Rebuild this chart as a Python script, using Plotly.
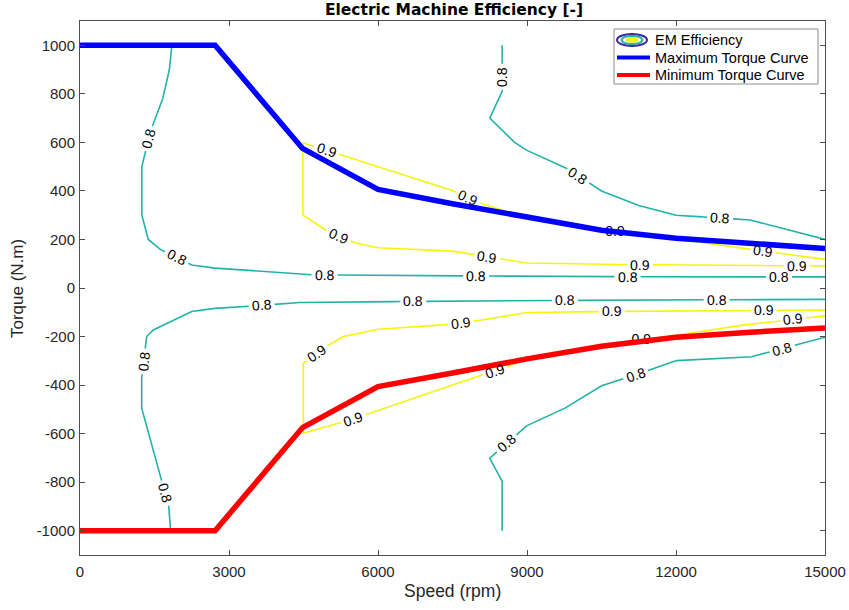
import math
import plotly.graph_objects as go

# ---------------- data ----------------
# speed / torque envelope
curve_speed = [0, 2720, 4480, 6000, 7500, 9000, 10500, 12000, 13500, 15000]
max_torque = [1000, 1000, 575, 406, 347, 292, 238, 205, 182, 163]
min_torque = [-1000, -1000, -575, -406, -350, -292, -240, -203, -182, -165]

# efficiency iso-lines (speed in rpm, torque in N.m)
eff08_upper_left_speed = [1850, 1800, 1665, 1475, 1310, 1245, 1245, 1375, 1610, 2250, 2720, 4560, 6000, 7650, 9000, 12000, 15000]
eff08_upper_left_torque = [1000, 900, 780, 680, 555, 500, 300, 200, 160, 95, 82, 55, 52, 50, 48, 46, 46]
eff08_upper_left_labels = [(1390, 616), (1946, 126), (4924, 55), (7974, 50), (11024, 47), (14074, 46)]

eff08_upper_right_speed = [8500, 8500, 8250, 8750, 9000, 9750, 10500, 11250, 12000, 12450, 13500, 15000]
eff08_upper_right_torque = [1000, 810, 700, 600, 567, 500, 400, 340, 300, 294, 280, 200]
eff08_upper_right_labels = [(8500, 870), (10032, 462), (12885, 286)]

eff09_upper_speed = [15000, 13400, 12000, 10500, 9000, 8150, 7480, 4490, 4490, 4930, 5570, 6000, 7500, 9000, 10900, 15000]
eff09_upper_torque = [118, 162, 203, 236, 288, 342, 403, 598, 300, 240, 184, 166, 152, 103, 97, 91]
eff09_upper_labels = [(4966, 567), (7818, 372), (10771, 228), (13757, 150), (5201, 214), (8200, 129), (11274, 96), (14428, 92)]

eff08_lower_left_speed = [1825, 1800, 1611, 1242, 1242, 1342, 1476, 2248, 2718, 3288, 4429, 6308, 9000, 12000, 15000]
eff08_lower_left_torque = [-1000, -907, -770, -495, -372, -200, -173, -97, -84, -77, -60, -56, -52, -49, -47]
eff08_lower_left_labels = [(1714, -845), (1282, -303), (3657, -72), (6711, -56), (9764, -52), (12818, -49)]

eff08_lower_right_speed = [8500, 8500, 8250, 8992, 9764, 10502, 11509, 12012, 13522, 15000]
eff08_lower_right_torque = [-1000, -797, -701, -568, -495, -403, -335, -299, -283, -203]
eff08_lower_right_labels = [(8590, -640), (11187, -357), (14139, -250)]

eff09_lower_speed = [15000, 13000, 10500, 9000, 8019, 7315, 6006, 5302, 5067, 4496, 4496, 5168, 5839, 7500, 8690, 9000, 10500, 12046, 13390, 15000]
eff09_lower_torque = [-91, -93, -97, -101, -134, -152, -170, -200, -228, -310, -598, -560, -516, -400, -317, -290, -240, -193, -152, -115]
eff09_lower_labels = [(4778, -269), (7670, -143), (10704, -97), (13770, -93), (5503, -536), (8355, -340), (11307, -224), (14361, -130)]

x_ticks = [0, 3000, 6000, 9000, 12000, 15000]
y_ticks = [-1000, -800, -600, -400, -200, 0, 200, 400, 600, 800, 1000]

# ---------------- layout geometry ----------------
FIG_W, FIG_H = 849, 610
M_L, M_R, M_T, M_B = 80, 24, 21, 55
PW, PH = FIG_W - M_L - M_R, FIG_H - M_T - M_B
X_RANGE = [0, 15000]
Y_RANGE = [-1100, 1100]
SX = PW / (X_RANGE[1] - X_RANGE[0])
SY = PH / (Y_RANGE[1] - Y_RANGE[0])

TEAL = "#22B3A8"
YELLOW = "#F5F50C"
AXIS = "#4d4d4d"
TXT = "#262626"
FONT = "Liberation Sans, Arial, sans-serif"
LABEL_FONT = dict(family=FONT, size=14, color="black")


def to_px(x, y):
    return ((x - X_RANGE[0]) * SX, (Y_RANGE[1] - y) * SY)


def to_data(u, v):
    return (u / SX + X_RANGE[0], Y_RANGE[1] - v / SY)


def project(pts, q):
    best = None
    s_acc = 0.0
    for i in range(len(pts) - 1):
        (x0, y0), (x1, y1) = pts[i], pts[i + 1]
        dx, dy = x1 - x0, y1 - y0
        L = math.hypot(dx, dy)
        t = 0.0 if L == 0 else max(0.0, min(1.0, ((q[0] - x0) * dx + (q[1] - y0) * dy) / (L * L)))
        cx, cy = x0 + t * dx, y0 + t * dy
        d = math.hypot(q[0] - cx, q[1] - cy)
        if best is None or d < best[0]:
            best = (d, s_acc + t * L, (cx, cy), math.degrees(math.atan2(dy, dx)))
        s_acc += L
    return best


def polyline_with_gaps(pts, intervals):
    cum = [0.0]
    for i in range(len(pts) - 1):
        cum.append(cum[-1] + math.hypot(pts[i + 1][0] - pts[i][0], pts[i + 1][1] - pts[i][1]))
    total = cum[-1]

    def at(s):
        for i in range(len(pts) - 1):
            if cum[i] <= s <= cum[i + 1]:
                L = cum[i + 1] - cum[i]
                t = 0 if L == 0 else (s - cum[i]) / L
                return (pts[i][0] + t * (pts[i + 1][0] - pts[i][0]),
                        pts[i][1] + t * (pts[i + 1][1] - pts[i][1]))
        return pts[-1]

    events = set(cum)
    for a, b in intervals:
        events.add(min(max(a, 0), total))
        events.add(min(max(b, 0), total))
    events = sorted(events)
    xs, ys = [], []
    drawing = False
    for a, b in zip(events[:-1], events[1:]):
        if b - a < 1e-9:
            continue
        m = (a + b) / 2
        if any(lo < m < hi for lo, hi in intervals):
            if drawing:
                xs.append(None)
                ys.append(None)
                drawing = False
            continue
        if not drawing:
            d = to_data(*at(a))
            xs.append(d[0])
            ys.append(d[1])
            drawing = True
        d = to_data(*at(b))
        xs.append(d[0])
        ys.append(d[1])
    return xs, ys


curve_px_max = [to_px(x, y) for x, y in zip(curve_speed, max_torque)]
curve_px_min = [to_px(x, y) for x, y in zip(curve_speed, min_torque)]

contours = [
    (eff08_upper_left_speed, eff08_upper_left_torque, eff08_upper_left_labels, TEAL, "0.8"),
    (eff08_upper_right_speed, eff08_upper_right_torque, eff08_upper_right_labels, TEAL, "0.8"),
    (eff09_upper_speed, eff09_upper_torque, eff09_upper_labels, YELLOW, "0.9"),
    (eff08_lower_left_speed, eff08_lower_left_torque, eff08_lower_left_labels, TEAL, "0.8"),
    (eff08_lower_right_speed, eff08_lower_right_torque, eff08_lower_right_labels, TEAL, "0.8"),
    (eff09_lower_speed, eff09_lower_torque, eff09_lower_labels, YELLOW, "0.9"),
]

fig = go.Figure()
annotations = []
hidden_x, hidden_y, hidden_t = [], [], []
GAP = 13

for sp, tq, labels, color, level in contours:
    pts = [to_px(x, y) for x, y in zip(sp, tq)]
    intervals = []
    for lab in labels:
        d, s0, (cx, cy), ang = project(pts, to_px(*lab))
        intervals.append((s0 - GAP, s0 + GAP))
        if ang > 90:
            ang -= 180
        elif ang < -90:
            ang += 180
        if abs(abs(ang) - 90) < 1e-6:
            ang = -90
        lx, ly = to_data(cx, cy)
        under = min(project(curve_px_max, (cx, cy))[0], project(curve_px_min, (cx, cy))[0]) < 5
        if under:
            hidden_x.append(lx)
            hidden_y.append(ly)
            hidden_t.append(level)
        else:
            annotations.append(dict(x=lx, y=ly, xref="x", yref="y", text=level, showarrow=False,
                                    textangle=ang, font=LABEL_FONT, xanchor="center", yanchor="middle"))
    xs, ys = polyline_with_gaps(pts, intervals)
    fig.add_trace(go.Scatter(x=xs, y=ys, mode="lines", line=dict(color=color, width=1.6),
                             showlegend=False, hoverinfo="skip", connectgaps=False))

fig.add_trace(go.Scatter(x=hidden_x, y=hidden_y, text=hidden_t, mode="text", textfont=LABEL_FONT,
                         textposition="middle center", showlegend=False, hoverinfo="skip"))

fig.add_trace(go.Scatter(x=curve_speed, y=max_torque, mode="lines", name="Maximum Torque Curve",
                         line=dict(color="#0000FF", width=5.5), showlegend=False))
fig.add_trace(go.Scatter(x=curve_speed, y=min_torque, mode="lines", name="Minimum Torque Curve",
                         line=dict(color="#FF0000", width=5.5), showlegend=False))


# ---------------- custom legend (MATLAB style) ----------------
def px2paper(u, v):
    return ((u - M_L) / PW, (FIG_H - M_B - v) / PH)


shapes = []
bx0, by0 = px2paper(614, 84)
bx1, by1 = px2paper(818, 29)
shapes.append(dict(type="rect", xref="paper", yref="paper", x0=bx0, y0=by0, x1=bx1, y1=by1,
                   line=dict(color="#8a8a8a", width=1), fillcolor="white", layer="above"))


def ellipse(cx, cy, rx, ry, color, width, fill=None):
    x0, y0 = px2paper(cx - rx, cy + ry)
    x1, y1 = px2paper(cx + rx, cy - ry)
    return dict(type="circle", xref="paper", yref="paper", x0=x0, y0=y0, x1=x1, y1=y1,
                line=dict(color=color, width=width), fillcolor=fill or "rgba(0,0,0,0)", layer="above")


shapes.append(ellipse(632, 40, 15, 6, "#3E26A8", 2))
shapes.append(ellipse(632, 40, 10.5, 4, TEAL, 2))
shapes.append(ellipse(632, 40, 5.5, 2, YELLOW, 1.5, YELLOW))
for yy, col in ((57.5, "#0000FF"), (75, "#FF0000")):
    x0, y0 = px2paper(617, yy)
    x1, _ = px2paper(650, yy)
    shapes.append(dict(type="line", xref="paper", yref="paper", x0=x0, y0=y0, x1=x1, y1=y0,
                       line=dict(color=col, width=4), layer="above"))

for yy, txt in ((40, "EM Efficiency"), (58, "Maximum Torque Curve"), (75.5, "Minimum Torque Curve")):
    x0, y0 = px2paper(653, yy)
    annotations.append(dict(x=x0, y=y0, xref="paper", yref="paper", text=txt, showarrow=False,
                            xanchor="left", yanchor="middle",
                            font=dict(family=FONT, size=14.5, color="black")))

# axis titles
ax_x, ax_y = px2paper(452, 591)
annotations.append(dict(x=ax_x, y=ax_y, xref="paper", yref="paper", text="Speed (rpm)", showarrow=False,
                        xanchor="center", yanchor="middle",
                        font=dict(family=FONT, size=17.5, color=TXT)))
ay_x, ay_y = px2paper(17, 288)
annotations.append(dict(x=ay_x, y=ay_y, xref="paper", yref="paper", text="Torque (N.m)", showarrow=False,
                        textangle=-90, xanchor="center", yanchor="middle",
                        font=dict(family=FONT, size=17, color=TXT)))

axis_common = dict(showgrid=False, zeroline=False, showline=True, linecolor=AXIS, linewidth=1,
                   mirror="ticks", ticks="inside", ticklen=5, tickcolor=AXIS, tickwidth=1,
                   tickfont=dict(family=FONT, size=15, color=TXT))

fig.update_layout(
    width=FIG_W, height=FIG_H,
    margin=dict(l=M_L, r=M_R, t=M_T, b=M_B, autoexpand=False),
    paper_bgcolor="white", plot_bgcolor="white",
    title=dict(text="<b>Electric Machine Efficiency [-]</b>", x=454 / FIG_W, xanchor="center",
               y=1 - 10 / FIG_H, yanchor="middle", yref="container",
               font=dict(family="DejaVu Sans, sans-serif", size=15.5, color="black")),
    xaxis=dict(range=X_RANGE, tickvals=x_ticks, ticktext=[str(v) for v in x_ticks],
               ticklabelstandoff=3, **axis_common),
    yaxis=dict(range=Y_RANGE, tickvals=y_ticks, ticktext=[str(v) for v in y_ticks],
               ticklabelstandoff=1, **axis_common),
    shapes=shapes,
    annotations=annotations,
    showlegend=False,
)

fig.write_html("out.html", config={"displayModeBar": False},
               post_script="document.body.style.margin='0';")
